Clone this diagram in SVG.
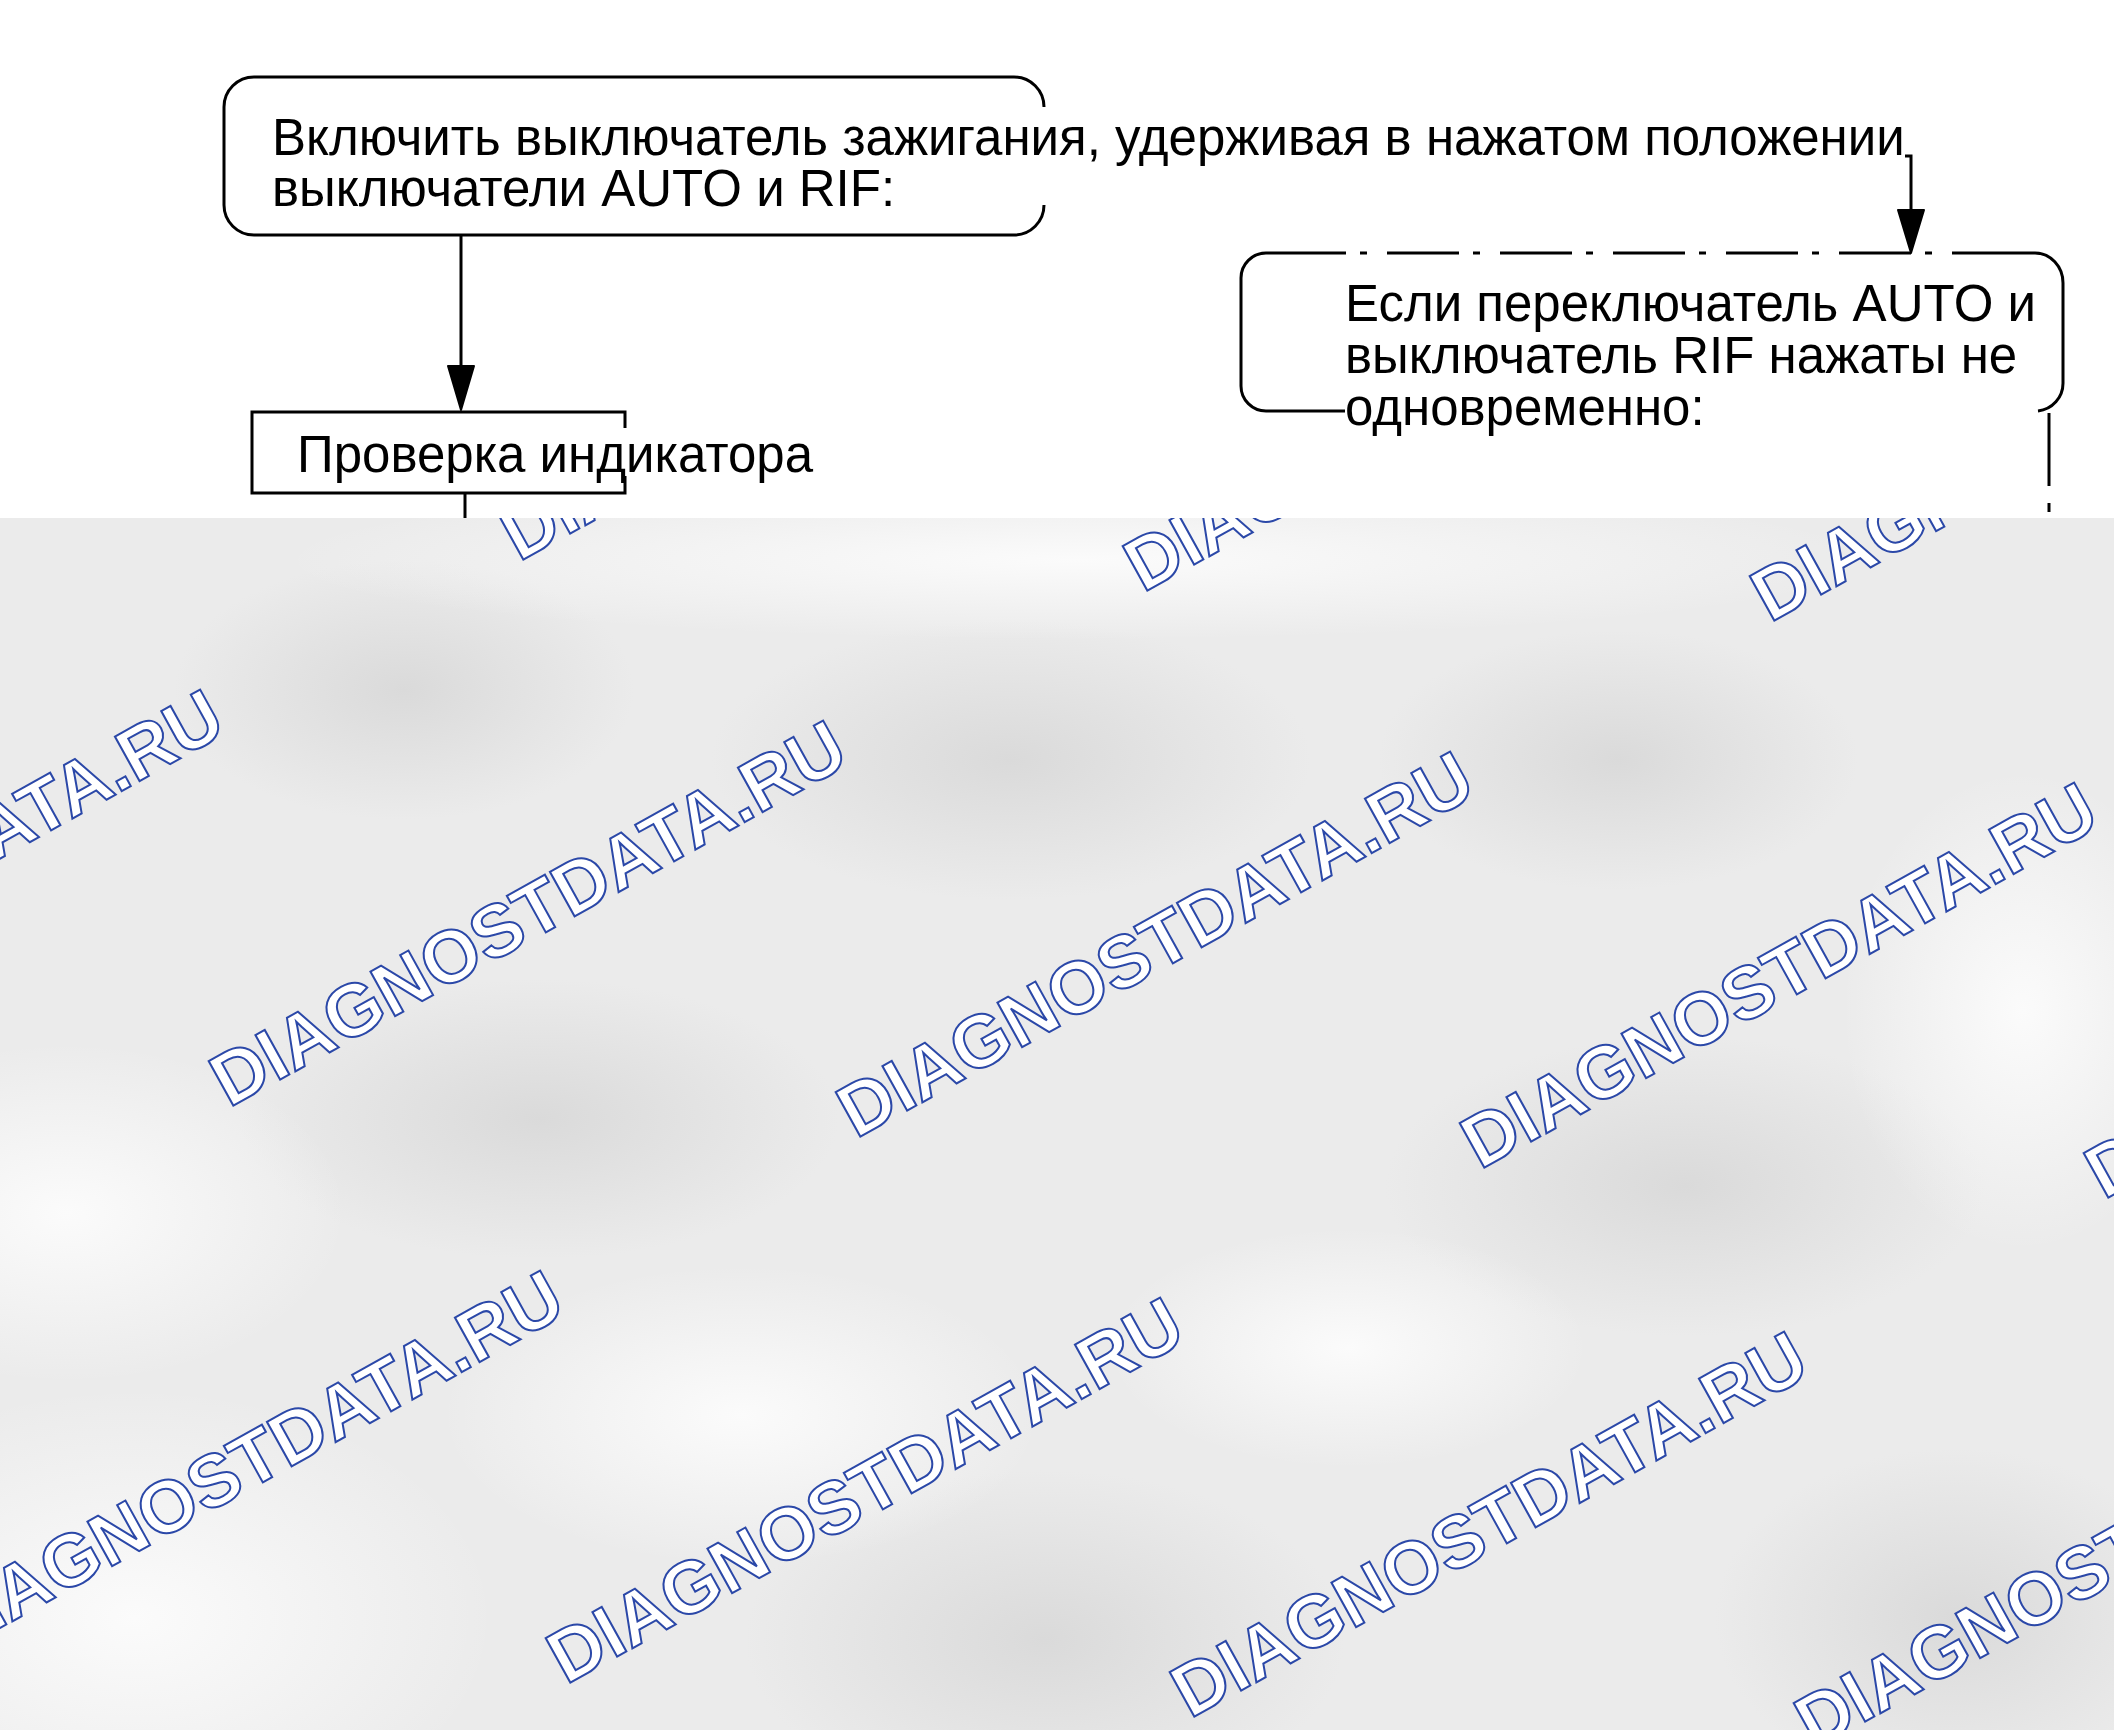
<svg xmlns="http://www.w3.org/2000/svg" xmlns:xlink="http://www.w3.org/1999/xlink" width="2114" height="1730" viewBox="0 0 2114 1730">
<style>
.ln{stroke:#000;stroke-width:3;fill:none;stroke-linecap:butt}
.t{font-family:"Liberation Sans",Arial,sans-serif;font-size:51px;fill:#000}
.wm{font-family:"Liberation Sans",Arial,sans-serif;font-weight:bold;font-size:74px;fill:#fff;stroke:#2b48a8;stroke-width:2}
.ah{fill:#000;stroke:#000;stroke-width:2;stroke-linejoin:round}
</style>
<defs>
<radialGradient id="dk"><stop offset="0" stop-color="#dadada" stop-opacity="1"/><stop offset="1" stop-color="#dadada" stop-opacity="0"/></radialGradient>
<radialGradient id="lt"><stop offset="0" stop-color="#fbfbfb" stop-opacity="1"/><stop offset="1" stop-color="#fbfbfb" stop-opacity="0"/></radialGradient>
<clipPath id="gclip"><rect x="0" y="518" width="2114" height="1212"/></clipPath>
<text id="wm" class="wm" x="0" y="0" textLength="712" lengthAdjust="spacingAndGlyphs">DIAGNOSTDATA.RU</text>
</defs>
<g id="background">
<rect x="0" y="0" width="2114" height="1730" fill="#fff"/>
<g clip-path="url(#gclip)">
<rect x="0" y="518" width="2114" height="1212" fill="#ebebeb"/>
<ellipse cx="404" cy="690" rx="230" ry="130" fill="url(#dk)"/>
<ellipse cx="1011" cy="760" rx="300" ry="140" fill="url(#dk)"/>
<ellipse cx="1618" cy="760" rx="240" ry="130" fill="url(#dk)"/>
<ellipse cx="539" cy="1119" rx="300" ry="140" fill="url(#dk)"/>
<ellipse cx="1685" cy="1186" rx="300" ry="150" fill="url(#dk)"/>
<ellipse cx="1045" cy="1640" rx="300" ry="170" fill="url(#dk)"/>
<ellipse cx="1955" cy="1618" rx="240" ry="170" fill="url(#dk)"/>
<ellipse cx="67" cy="1213" rx="280" ry="170" fill="url(#lt)"/>
<ellipse cx="135" cy="1618" rx="360" ry="230" fill="url(#lt)"/>
<ellipse cx="741" cy="1415" rx="300" ry="150" fill="url(#lt)"/>
<ellipse cx="1348" cy="1348" rx="240" ry="120" fill="url(#lt)"/>
<ellipse cx="2022" cy="1011" rx="180" ry="240" fill="url(#lt)"/>
<ellipse cx="1078" cy="560" rx="800" ry="80" fill="url(#lt)"/>
</g>
</g>
<g id="watermarks" clip-path="url(#gclip)">
<use xlink:href="#wm" transform="translate(-108,531) rotate(-29)"/>
<use xlink:href="#wm" transform="translate(519,562) rotate(-29)"/>
<use xlink:href="#wm" transform="translate(1143,593) rotate(-29)"/>
<use xlink:href="#wm" transform="translate(1770,623) rotate(-29)"/>
<use xlink:href="#wm" transform="translate(-394,1077) rotate(-29)"/>
<use xlink:href="#wm" transform="translate(229,1108) rotate(-29)"/>
<use xlink:href="#wm" transform="translate(856,1139) rotate(-29)"/>
<use xlink:href="#wm" transform="translate(1480,1170) rotate(-29)"/>
<use xlink:href="#wm" transform="translate(2104,1200) rotate(-29)"/>
<use xlink:href="#wm" transform="translate(-54,1658) rotate(-29)"/>
<use xlink:href="#wm" transform="translate(566,1685) rotate(-29)"/>
<use xlink:href="#wm" transform="translate(1190,1719) rotate(-29)"/>
<use xlink:href="#wm" transform="translate(1814,1750) rotate(-29)"/>
</g>
<g id="connectors">
<line class="ln" x1="461" y1="236" x2="461" y2="370"/>
<polygon class="ah" points="448,366 474,366 461,410"/>
<line class="ln" x1="465" y1="493" x2="465" y2="518"/>
<polyline class="ln" points="1905,156 1911,156 1911,214"/>
<polygon class="ah" points="1898,210 1924,210 1911,253"/>
<line class="ln" x1="2049" y1="413" x2="2049" y2="486"/>
<line class="ln" x1="2049" y1="503" x2="2049" y2="512"/>
</g>
<g id="node-ignition">
<path class="ln" d="M1044,107 A30,30 0 0 0 1014,77 L254,77 A30,30 0 0 0 224,107 L224,205 A30,30 0 0 0 254,235 L1014,235 A30,30 0 0 0 1044,205"/>
<text class="t" x="272" y="155">Включить выключатель зажигания, удерживая в нажатом положении</text>
<text class="t" x="272" y="206">выключатели AUTO и RIF:</text>
</g>
<g id="node-check">
<path class="ln" d="M625,428 L625,412 L252,412 L252,493 L625,493 L625,476"/>
<text class="t" x="297" y="472">Проверка индикатора</text>
</g>
<g id="node-condition">
<path class="ln" d="M1274,253 L1266,253 A25,25 0 0 0 1241,278 L1241,386 A25,25 0 0 0 1266,411 L1345,411"/>
<line class="ln" x1="1274" y1="253" x2="1952" y2="253" stroke-dasharray="72 14 7 20"/>
<path class="ln" d="M1952,253 L2035,253 A28,30 0 0 1 2063,283 L2063,383 A28,28 0 0 1 2038,411"/>
<text class="t" x="1345" y="321">Если переключатель AUTO и</text>
<text class="t" x="1345" y="373">выключатель RIF нажаты не</text>
<text class="t" x="1345" y="425">одновременно:</text>
</g>
</svg>
